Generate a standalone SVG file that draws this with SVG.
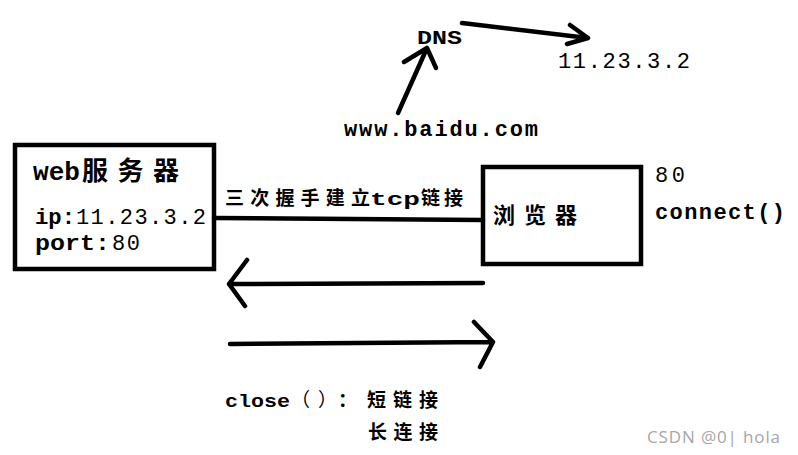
<svg xmlns="http://www.w3.org/2000/svg" width="798" height="455" viewBox="0 0 798 455">
<style>
.box{fill:none;stroke:#000;stroke-width:4.5}
.ln{fill:none;stroke:#000;stroke-width:4.5;stroke-linecap:round;stroke-linejoin:round}
.mono{font-family:"Liberation Mono","Noto Sans CJK SC",monospace;fill:#000}
.cjk{font-family:"Noto Sans CJK SC","Liberation Sans",sans-serif;fill:#000}
.b{font-weight:bold}
.n{font-weight:normal}
.wm{font-family:"Open Sans","Liberation Sans",sans-serif;fill:#a6a6a6;font-size:17px}
</style>
<rect width="798" height="455" fill="#fff"/>
<g id="web-server">
<rect class="box" x="15" y="145" width="199" height="124"/>
<text class="b" y="180"><tspan class="mono" x="33" font-size="25" textLength="47" lengthAdjust="spacingAndGlyphs">web</tspan><tspan class="cjk" x="82" font-size="26" textLength="97" lengthAdjust="spacing">服务器</tspan></text>
<text class="mono" y="224" font-size="22"><tspan class="b" x="35" textLength="40" lengthAdjust="spacingAndGlyphs">ip:</tspan><tspan class="n" x="76" textLength="130" lengthAdjust="spacing">11.23.3.2</tspan></text>
<text class="mono" y="250" font-size="22"><tspan class="b" x="35" textLength="75" lengthAdjust="spacingAndGlyphs">port:</tspan><tspan class="n" x="112" textLength="28" lengthAdjust="spacing">80</tspan></text>
</g>
<g id="browser">
<rect class="box" x="483" y="167" width="158" height="97"/>
<text class="cjk b" x="493" y="223" font-size="22" textLength="84" lengthAdjust="spacing">浏览器</text>
</g>
<g id="dns">
<text class="mono b" x="417" y="44" font-size="20" textLength="45" lengthAdjust="spacingAndGlyphs">DNS</text>
</g>
<g id="domain">
<text class="mono b" x="344" y="136" font-size="22" textLength="194" lengthAdjust="spacing">www.baidu.com</text>
</g>
<g id="ip-result">
<text class="mono" x="558" y="68" font-size="22" textLength="132" lengthAdjust="spacing">11.23.3.2</text>
</g>
<g id="port-label">
<text class="mono n" x="655" y="182" font-size="22" textLength="30" lengthAdjust="spacing">80</text>
<text class="mono b" x="655" y="219" font-size="22" textLength="130" lengthAdjust="spacing">connect()</text>
</g>
<g id="connectors">
<path class="ln" d="M398 113 L427 48 M404 62 L427 48 L436 68"/>
<path class="ln" d="M462 23 L588 38 M570 25 L588 38 L567 44"/>
<path class="ln" d="M214 218 L483 220"/>
<path class="ln" d="M483 283 L229 284 M247 260 L229 284 L245 306"/>
<path class="ln" d="M230 344 L493 342 M474 322 L493 342 L480 367"/>
</g>
<g id="labels">
<text class="b" y="205" font-size="19"><tspan class="cjk" x="225" textLength="145" lengthAdjust="spacing">三次握手建立</tspan><tspan class="mono" x="370" textLength="50" lengthAdjust="spacingAndGlyphs">tcp</tspan><tspan class="cjk" x="421" textLength="42" lengthAdjust="spacing">链接</tspan></text>
<text class="b" y="407" font-size="19"><tspan class="mono" x="225" textLength="65" lengthAdjust="spacingAndGlyphs">close</tspan><tspan class="cjk n" x="291">（</tspan><tspan class="cjk n" x="318">）</tspan><tspan class="cjk" x="338">：</tspan><tspan class="cjk" x="367" textLength="71" lengthAdjust="spacing">短链接</tspan></text>
<text class="cjk b" x="368" y="439" font-size="19" textLength="70" lengthAdjust="spacing">长连接</text>
</g>
<text class="wm" x="647" y="443" textLength="133" lengthAdjust="spacing">CSDN @0| hola</text>
</svg>
